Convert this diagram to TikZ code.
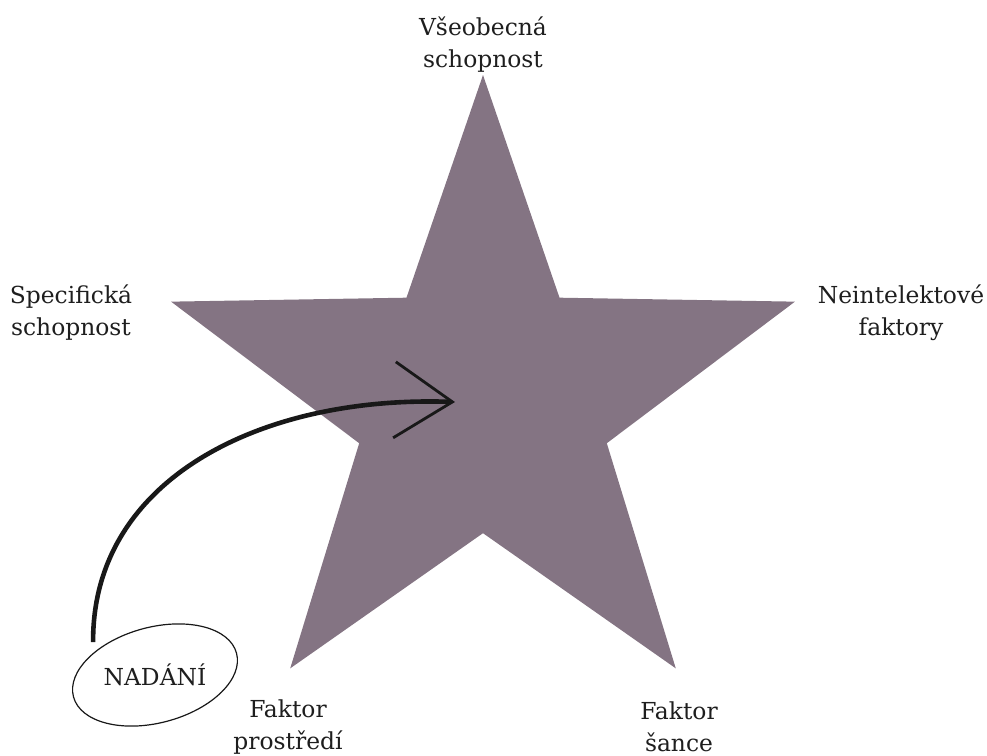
\documentclass[tikz,border=0pt]{standalone}
\usepackage{fontspec}
\setmainfont{DejaVu Serif}
\usepackage{tikz}
\usetikzlibrary{
  arrows.meta,
  shapes.geometric
}
\definecolor{starmauve}{RGB}{132, 116, 131}
\definecolor{inkdark}{RGB}{24, 24, 24}
\definecolor{labelgrey}{RGB}{30, 30, 30}

\begin{document}
\begin{tikzpicture}[x=0.5pt, y=-0.5pt,
  factor/.style={font=\fontsize{11.7}{16}\selectfont, align=center, text=labelgrey, inner sep=0pt}]
  \useasboundingbox (0,0) rectangle (987,756);
  \node[star, star points=5, star point ratio=2.52, minimum size=328pt, inner sep=0pt, fill=starmauve] (star) at (483,403) {};
  \coordinate (aim) at (455,402);
  \node[factor] (general) at (483,45) {Všeobecná\\schopnost};
  \node[factor] (specific) at (71,313) {Specifická\\schopnost};
  \node[factor] (nonintel) at (901,313) {Neintelektové\\faktory};
  \node[factor] (environ) at (288,727) {Faktor\\prostředí};
  \node[factor] (chance) at (679,727) {Faktor\\šance};
  \node[factor, ellipse, minimum width=84pt, minimum height=48pt] (talent) at (155,675) {NADÁNÍ};
  \draw[inkdark, line width=0.6pt, rotate around={15:(talent.center)}] (talent.center) ellipse [x radius=42.2pt, y radius=23.9pt];
  \draw[inkdark, line width=2.3pt, -{Straight Barb[length=29pt, width=38pt, line width=1.4pt]}]
    (talent.152) .. controls (92,480) and (260,395) .. (aim);
\end{tikzpicture}
\end{document}
